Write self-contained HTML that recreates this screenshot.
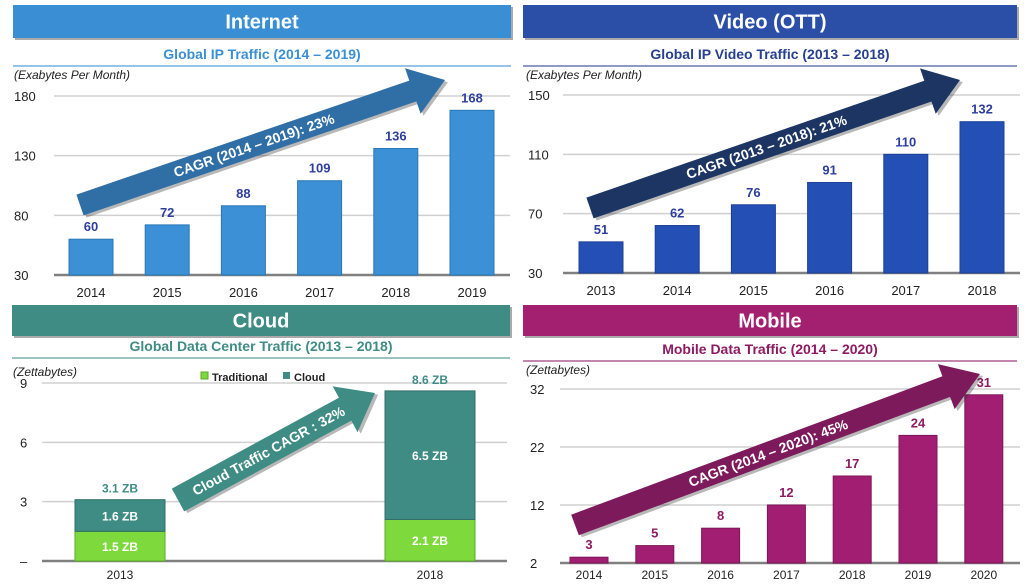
<!DOCTYPE html>
<html><head><meta charset="utf-8"><style>
body{margin:0;background:#fff;font-family:"Liberation Sans",sans-serif}
svg text{font-family:"Liberation Sans",sans-serif}
</style></head><body>
<svg id="s" width="1030" height="583" viewBox="0 0 1030 583" xmlns="http://www.w3.org/2000/svg"></svg>
<script>
const netCats=["2014","2015","2016","2017","2018","2019"];
const netVals=[60,72,88,109,136,168];
const netTicks=[30,80,130,180];
const vidCats=["2013","2014","2015","2016","2017","2018"];
const vidVals=[51,62,76,91,110,132];
const vidTicks=[30,70,110,150];
const cloudCats=["2013","2018"];
const cloudTrad=[1.5,2.1];
const cloudCloud=[1.6,6.5];
const cloudTotals=["3.1 ZB","8.6 ZB"];
const cloudTicks=[0,3,6,9];
const mobCats=["2014","2015","2016","2017","2018","2019","2020"];
const mobVals=[3,5,8,12,17,24,31];
const mobTicks=[2,12,22,32];

const S=document.getElementById('s');const NS="http://www.w3.org/2000/svg";
function el(t,a,p){const e=document.createElementNS(NS,t);for(const k in a)e.setAttribute(k,a[k]);(p||S).appendChild(e);return e;}
function txt(x,y,s,a,p){const e=el('text',Object.assign({x:x,y:y,'text-anchor':'middle'},a),p);e.textContent=s;return e;}

function banner(x,y,w,h,fill,title,sub,subCol,ruleY,name){
  const g=el('g',{});
  
  
  el('rect',{x:x+2,y:y+2,width:w,height:h,fill:'#555',opacity:0.5},g);
  el('rect',{x:x,y:y,width:w,height:h,fill:fill},g);
  const t=txt(x+w/2,y+h/2+7,title,{fill:'#fff','font-size':20,'font-weight':'bold'},g);
  
  
  const st=txt(x+w/2,ruleY-7,sub,{fill:subCol,'font-size':14,'font-weight':'bold'},g);
  
  
  el('line',{x1:x,x2:x+w,y1:ruleY,y2:ruleY,stroke:subCol,'stroke-width':1.5,opacity:0.7},g);
}

function axes(o){
  const sy=v=>o.yBot-(v-o.vmin)/(o.vmax-o.vmin)*(o.yBot-o.yTop);
  o.ticks.forEach((t,i)=>{
    if(i>0){const l=el('line',{x1:o.x0,x2:o.x1,y1:sy(t),y2:sy(t),stroke:'#d0d0d0','stroke-width':1.5});
      
      }
    const tl=txt(o.tickX,sy(t)+5,o.tickLabel?o.tickLabel(t):String(t),{fill:'#222','font-size':13,'text-anchor':'start'});
    
    
  });
  const b=el('line',{x1:o.x0,x2:o.x1,y1:o.yBot,y2:o.yBot,stroke:'#808080','stroke-width':2.5});
  
  
  const u=txt(o.unitX,o.unitY,o.unit,{fill:'#222','font-size':12,'font-style':'italic','text-anchor':'start'});
  
  
  return sy;
}

function arrow(x1,y1,x2,y2,bw,hw,hl,fill,label,fs,name){
  const dx=x2-x1,dy=y2-y1,L=Math.hypot(dx,dy),ang=Math.atan2(dy,dx)*180/Math.PI;
  const g=el('g',{transform:`translate(${x1},${y1}) rotate(${ang})`});
  
  
  const p=`0,${-bw} ${L-hl},${-bw} ${L-hl},${-hw} ${L},0 ${L-hl},${hw} ${L-hl},${bw} 0,${bw}`;
  el('polygon',{points:p,fill:'#333',opacity:0.35,transform:'translate(2,3)'},g);
  el('polygon',{points:p,fill:fill},g);
  const t=txt((L-hl)/2+8,fs*0.35,label,{fill:'#fff','font-size':fs,'font-weight':'bold'},g);
  
  
}

function barChart(cats,vals,cfg){
  const sy=axes(cfg);
  cats.forEach((c,i)=>{
    const cx=cfg.cx0+i*cfg.step;
    const y=sy(vals[i]);
    const r=el('rect',{x:cx-cfg.bw/2,y:y,width:cfg.bw,height:cfg.yBot-y,fill:cfg.bar,stroke:cfg.barEdge,'stroke-width':1});
    
    
    const v=txt(cx,y-8,String(vals[i]),{fill:cfg.valCol,'font-size':13,'font-weight':'bold'});
    
    
    const xl=txt(cx,cfg.yBot+(cfg.labOff||22),c,{fill:'#222','font-size':cfg.labFs||13});
    
    
  });
}

// Internet
banner(13,5,498,33,'#3a8fd4','Internet','Global IP Traffic (2014 – 2019)','#3a8fd4',66,'internet');
barChart(netCats,netVals,{name:'internet',x0:54,x1:510,yTop:96,yBot:275,vmin:30,vmax:180,ticks:netTicks,tickX:14,
  unit:'(Exabytes Per Month)',unitX:14,unitY:79,cx0:91,step:76.2,bw:44,bar:'#3b90d6',barEdge:'#2b78b8',valCol:'#2e3ea0'});
arrow(80,205,445,80,11,24,34,'#2f6fa6','CAGR (2014 – 2019): 23%',14,'internet-cagr-arrow');

// Video
banner(523,5,494,33,'#2b4fa6','Video (OTT)','Global IP Video Traffic (2013 – 2018)','#27408f',66,'video');
barChart(vidCats,vidVals,{name:'video',x0:563,x1:1020,yTop:95,yBot:273,vmin:30,vmax:150,ticks:vidTicks,tickX:528,
  unit:'(Exabytes Per Month)',unitX:526,unitY:79,cx0:601,step:76.2,bw:44,bar:'#2450b6',barEdge:'#1c3f94',valCol:'#2e3ea0'});
arrow(590,208,960,80,11,24,34,'#1c3563','CAGR (2013 – 2018): 21%',14,'video-cagr-arrow');

// Cloud
banner(12,305,498,31,'#3f8c84','Cloud','Global Data Center Traffic (2013 – 2018)','#3f8c84',358,'cloud');
(function(){
  const cfg={x0:42,x1:507,yTop:383,yBot:561,vmin:0,vmax:9,ticks:cloudTicks,tickX:20,unit:'(Zettabytes)',unitX:13,unitY:376,
    tickLabel:t=>t===0?'–':String(t)};
  const sy=axes(cfg);
  const cxs=[120,430];
  cloudCats.forEach((c,i)=>{
    const cx=cxs[i],bw=90;
    const yT=sy(cloudTrad[i]),yC=sy(cloudTrad[i]+cloudCloud[i]);
    const r1=el('rect',{x:cx-bw/2,y:yT,width:bw,height:cfg.yBot-yT,fill:'#7ed93c',stroke:'#5eaa28'});
    
    
    const r2=el('rect',{x:cx-bw/2,y:yC,width:bw,height:yT-yC,fill:'#3f8c84',stroke:'#2f6e68'});
    
    
    const a=txt(cx,(yT+cfg.yBot)/2+5,cloudTrad[i]+' ZB',{fill:'#fff','font-size':12,'font-weight':'bold'});
    
    
    const b=txt(cx,(yC+yT)/2+5,cloudCloud[i]+' ZB',{fill:'#fff','font-size':12,'font-weight':'bold'});
    
    
    const tt=txt(cx,yC-7,cloudTotals[i],{fill:'#3f8c84','font-size':12,'font-weight':'bold'});
    
    
    const xl=txt(cx,cfg.yBot+18,c,{fill:'#222','font-size':12});
    
    
  });
  const lg=el('g',{});
  
  
  el('rect',{x:201,y:372,width:7,height:7,fill:'#7ed93c',stroke:'#5eaa28'},lg);
  txt(212,381,'Traditional',{fill:'#222','font-size':11,'font-weight':'bold','text-anchor':'start'},lg);
  el('rect',{x:283,y:372,width:7,height:7,fill:'#3f8c84'},lg);
  txt(294,381,'Cloud',{fill:'#222','font-size':11,'font-weight':'bold','text-anchor':'start'},lg);
})();
arrow(178,500,375,393,13,26,34,'#3f8c84','Cloud Traffic CAGR : 32%',14,'cloud-cagr-arrow');

// Mobile
banner(523,305,494,31,'#a2206f','Mobile','Mobile Data Traffic (2014 – 2020)','#8e1b62',361,'mobile');
barChart(mobCats,mobVals,{name:'mobile',x0:560,x1:1020,yTop:389,yBot:563,vmin:2,vmax:32,ticks:mobTicks,tickX:530,
  unit:'(Zettabytes)',unitX:526,unitY:374,cx0:589,step:65.8,bw:38,bar:'#a21e72',barEdge:'#7e1658',valCol:'#8e1b62',labOff:16,labFs:12});
arrow(575,525,980,374,11,24,36,'#7d1a5c','CAGR (2014 – 2020): 45%',14,'mobile-cagr-arrow');
</script>
</body></html>
